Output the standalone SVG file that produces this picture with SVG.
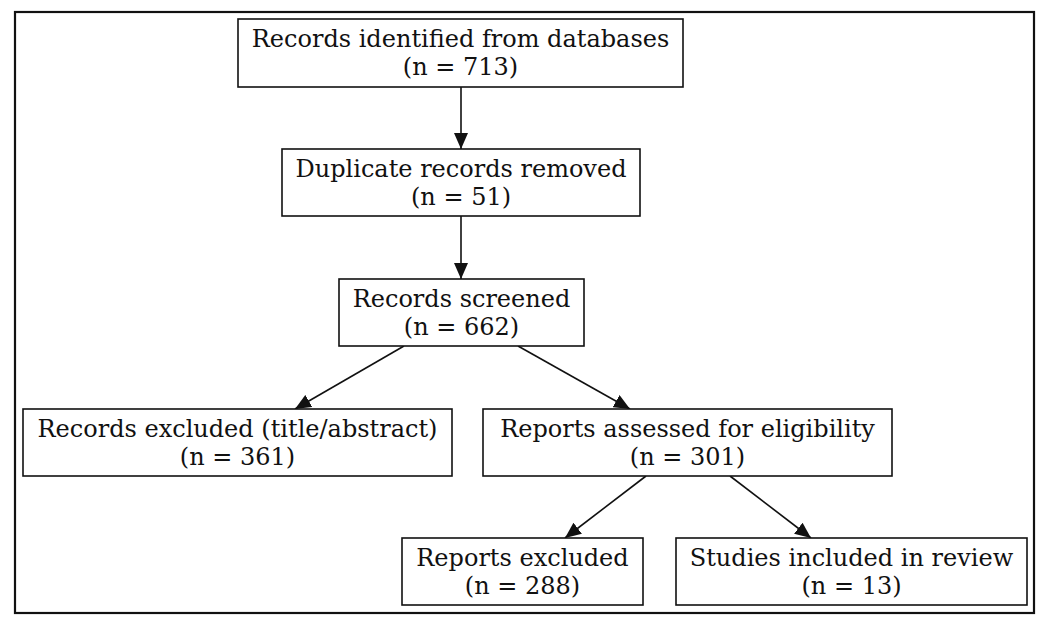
<svg xmlns="http://www.w3.org/2000/svg" width="1047" height="627" viewBox="0 0 1047 627">
<style>
.frame{fill:none;stroke:#111;stroke-width:2.2}
.box{fill:#fff;stroke:#111;stroke-width:1.6}
.t{font-family:"DejaVu Serif",serif;font-size:24px;fill:#111;text-anchor:middle}
.e{stroke:#111;stroke-width:1.6;fill:none;marker-end:url(#ah)}
</style>
<defs>
<marker id="ah" markerWidth="16" markerHeight="14" refX="16" refY="7" orient="auto" markerUnits="userSpaceOnUse">
<path d="M0,0 L16,7 L0,14 z" fill="#111"/>
</marker>
</defs>
<rect width="1047" height="627" fill="#fff"/>
<rect class="frame" x="15" y="12" width="1019" height="601"/>
<g id="connectors">
<line class="e" x1="461" y1="87" x2="461" y2="149"/>
<line class="e" x1="461" y1="216" x2="461" y2="279"/>
<line class="e" x1="404" y1="346" x2="295" y2="409"/>
<line class="e" x1="518" y1="346" x2="630" y2="409"/>
<line class="e" x1="646" y1="476" x2="565" y2="538"/>
<line class="e" x1="730" y1="476" x2="811" y2="538"/>
</g>
<g id="n1"><rect class="box" x="238" y="19" width="445" height="68"/><text class="t" x="460.5" y="47">Records identified from databases</text><text class="t" x="460.5" y="75">(n = 713)</text></g>
<g id="n2"><rect class="box" x="282" y="149" width="358" height="67"/><text class="t" x="461" y="177">Duplicate records removed</text><text class="t" x="461" y="205">(n = 51)</text></g>
<g id="n3"><rect class="box" x="339" y="279" width="245" height="67"/><text class="t" x="461.5" y="307">Records screened</text><text class="t" x="461.5" y="335">(n = 662)</text></g>
<g id="n4"><rect class="box" x="23" y="409" width="429" height="67"/><text class="t" x="237.5" y="437">Records excluded (title/abstract)</text><text class="t" x="237.5" y="465">(n = 361)</text></g>
<g id="n5"><rect class="box" x="483" y="409" width="409" height="67"/><text class="t" x="687.5" y="437">Reports assessed for eligibility</text><text class="t" x="687.5" y="465">(n = 301)</text></g>
<g id="n6"><rect class="box" x="402" y="538" width="241" height="67"/><text class="t" x="522.5" y="566">Reports excluded</text><text class="t" x="522.5" y="594">(n = 288)</text></g>
<g id="n7"><rect class="box" x="676" y="538" width="351" height="67"/><text class="t" x="851.5" y="566">Studies included in review</text><text class="t" x="851.5" y="594">(n = 13)</text></g>
</svg>
